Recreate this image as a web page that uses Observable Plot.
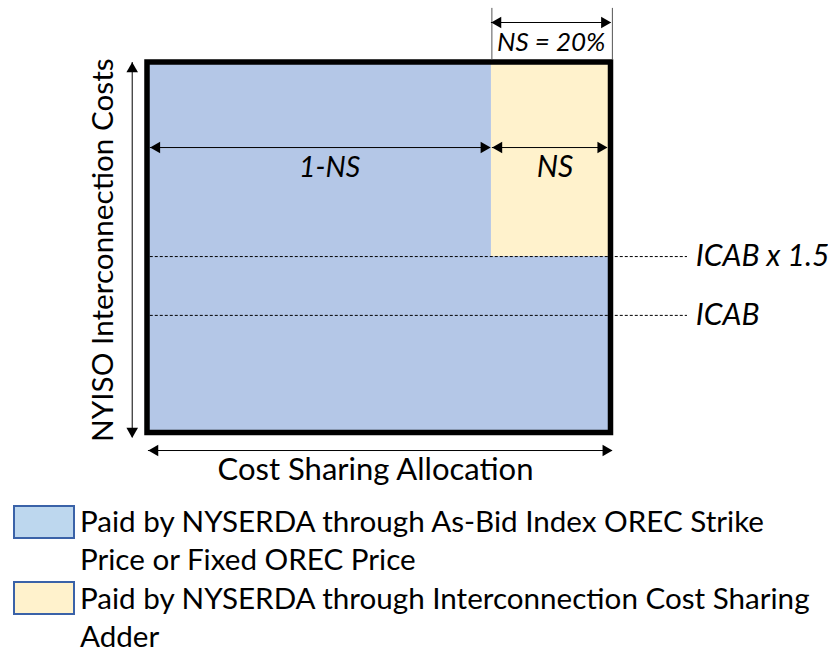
<!DOCTYPE html>
<html>
<head>
<meta charset="utf-8">
<script src="https://cdn.jsdelivr.net/npm/d3@7"></script>
<script src="https://cdn.jsdelivr.net/npm/@observablehq/plot@0.6"></script>
<style>
  body { margin: 0; background: #fff; font-family: Lato, sans-serif; overflow: hidden; }
  #legend { margin-left: 13px; margin-top: 12px; }
  .item { display: flex; align-items: flex-start; }
  .sw { width: 58px; height: 30px; border: 2px solid #3A62A8; margin-top: 2.5px; margin-right: 5px; flex: none; }
  .txt { font-size: 29.6px; line-height: 38.3px; color: #000; white-space: nowrap; }
</style>
</head>
<body>
<div id="chart"></div>
<div id="legend"></div>
<script>
// ---- data (conceptual diagram) ----
const allocationExtent = [0, 1];          // cost sharing allocation axis
const costTop = 3.15;                     // box top in ICAB units
const nsVisualShare = 0.258;              // drawn width of NS band
const nsLabel = "NS = 20%";
const icabLevels = [1, 1.5];
const icabLabels = ["ICAB", "ICAB x 1.5"];
const bandLabels = ["1-NS", "NS"];
const axisTitles = ["Cost Sharing Allocation", "NYISO Interconnection Costs"];
const legendLines = [
  ["Paid by NYSERDA through As-Bid Index OREC Strike", "Price or Fixed OREC Price"],
  ["Paid by NYSERDA through Interconnection Cost Sharing", "Adder"]
];
const colors = {blue: "#B4C7E7", yellow: "#FFF2CC", legendBlue: "#BDD7EE", legendYellow: "#FFF2CC"};

// ---- derived tables ----
const split = 1 - nsVisualShare;
const regions = [
  {x1: 0, x2: 1, y1: 0, y2: costTop, fill: colors.blue},
  {x1: split, x2: 1, y1: icabLevels[1], y2: costTop, fill: colors.yellow}
];
const icabRules = icabLevels.map((v, i) => ({y: v, label: icabLabels[i]}));

// horizontal double arrows
const hArrows = [
  {x1: split, x2: 1.0, y: 3.49},             // NS = 20%
  {x1: 0.006, x2: split - 0.002, y: 2.427},  // 1-NS
  {x1: split + 0.002, x2: 0.992, y: 2.427},  // NS
  {x1: 0.002, x2: 1.003, y: -0.149}          // cost sharing allocation
];
// vertical double arrows
const vArrows = [
  {x: -0.033, y1: -0.04, y2: costTop}
];
const topTicks = [split + 0.001, 1.003];

const font = "Lato, sans-serif";

const plot = Plot.plot({
  width: 828,
  height: 490,
  marginLeft: 147,
  marginRight: 217.5,
  marginTop: 62,
  marginBottom: 57.5,
  x: {domain: allocationExtent, axis: null},
  y: {domain: [0, costTop], axis: null},
  style: {fontFamily: font, overflow: "visible", background: "white"},
  marks: [
    Plot.rect(regions, {x1: "x1", x2: "x2", y1: "y1", y2: "y2", fill: "fill"}),
    Plot.ruleY(icabRules, {y: "y", x1: 0.006, x2: 1.165, stroke: "#000", strokeWidth: 1, strokeDasharray: "3,2"}),
    Plot.text(icabRules, {y: "y", x: 1.183, text: "label", textAnchor: "start", fontSize: 30, fontStyle: "italic", fill: "#000"}),
    Plot.rect([{}], {x1: 0, x2: 1, y1: 0, y2: costTop, fill: "none", stroke: "#000", strokeWidth: 5.5}),
    // top NS ticks
    Plot.ruleX(topTicks, {x: d => d, y1: 3.17, y2: 3.61, stroke: "#555", strokeWidth: 1}),
    // horizontal arrows
    Plot.ruleY(hArrows, {y: "y", x1: "x1", x2: "x2", stroke: "#000", strokeWidth: 1}),
    Plot.dot(hArrows, {x: "x2", y: "y", symbol: "triangle", r: 4.3, fill: "#000", stroke: null, rotate: 90, dx: -6.5}),
    Plot.dot(hArrows, {x: "x1", y: "y", symbol: "triangle", r: 4.3, fill: "#000", stroke: null, rotate: -90, dx: 6.5}),
    // vertical arrow
    Plot.ruleX(vArrows, {x: "x", y1: "y1", y2: "y2", stroke: "#000", strokeWidth: 1}),
    Plot.dot(vArrows, {x: "x", y: "y2", symbol: "triangle", r: 4.3, fill: "#000", stroke: null, rotate: 0, dy: 6.5}),
    Plot.dot(vArrows, {x: "x", y: "y1", symbol: "triangle", r: 4.3, fill: "#000", stroke: null, rotate: 180, dy: -6.5}),
    // labels
    Plot.text([nsLabel], {x: (split + 1) / 2, y: 3.32, text: d => d, fontSize: 26, fontStyle: "italic", fill: "#000"}),
    Plot.text([bandLabels[0]], {x: 0.393, y: 2.257, text: d => d, fontSize: 28.5, fontStyle: "italic", fill: "#000"}),
    Plot.text([bandLabels[1]], {x: (split + 1) / 2 + 0.008, y: 2.257, text: d => d, fontSize: 30, fontStyle: "italic", fill: "#000"}),
    Plot.text([axisTitles[0]], {x: 0.492, y: -0.319, text: d => d, fontSize: 31, fill: "#000"}),
    Plot.text([axisTitles[1]], {x: -0.095, y: costTop / 2 - 0.02, text: d => d, fontSize: 29.7, rotate: -90, fill: "#000"})
  ]
});
document.getElementById("chart").appendChild(plot);

// legend
const legendFills = [colors.legendBlue, colors.legendYellow];
const legend = d3.select("#legend");
legendLines.forEach((lines, i) => {
  const item = legend.append("div").attr("class", "item");
  item.append("div").attr("class", "sw").style("background", legendFills[i]);
  const t = item.append("div").attr("class", "txt");
  lines.forEach(l => t.append("div").text(l));
});
</script>
</body>
</html>
